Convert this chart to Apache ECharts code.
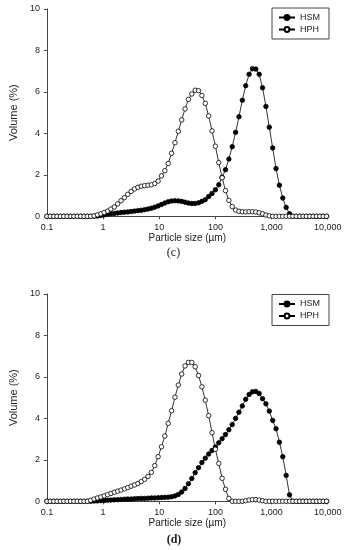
<!DOCTYPE html>
<html><head><meta charset="utf-8">
<script src="https://cdn.jsdelivr.net/npm/echarts@6/dist/echarts.min.js"></script>
<style>html,body{margin:0;padding:0;background:#fff}#c{width:345px;height:550px}</style>
</head><body><div id="c"></div>
<script>
// Particle size classes (µm)
const sizes = [0.1,0.1148,0.1318,0.1514,0.1738,0.1995,0.2291,0.2630,0.3020,0.3467,
0.3981,0.4571,0.5248,0.6026,0.6918,0.7943,0.9120,1.047,1.202,1.380,
1.585,1.820,2.089,2.399,2.754,3.162,3.631,4.169,4.786,5.495,
6.310,7.244,8.318,9.550,10.96,12.59,14.45,16.60,19.05,21.88,
25.12,28.84,33.11,38.02,43.65,50.12,57.54,66.07,75.86,87.10,
100.0,114.8,131.8,151.4,173.8,199.5,229.1,263.0,302.0,346.7,
398.1,457.1,524.8,602.6,691.8,794.3,912.0,1047,1202,1380,
1585,1820,2089,2399,2754,3162,3631,4169,4786,5495,
6310,7244,8318,9550];

// Panel (c)
const hsmC = [0,0,0,0,0,0,0,0,0,0,
0,0,0,0,0,0.01,0.04,0.07,0.10,0.12,
0.14,0.16,0.18,0.20,0.21,0.23,0.25,0.27,0.29,0.32,
0.35,0.39,0.44,0.50,0.57,0.64,0.70,0.74,0.75,0.74,
0.72,0.68,0.64,0.62,0.62,0.65,0.72,0.80,0.95,1.10,
1.28,1.52,1.88,2.25,2.76,3.36,4.05,4.80,5.60,6.30,
6.85,7.12,7.10,6.85,6.20,5.30,4.30,3.30,2.30,1.50,
0.88,0.43,0.12,0,0,0,0,0,0,0,
0,0,0,0];
const hphC = [0,0,0,0,0,0,0,0,0,0,
0,0,0,0,0.02,0.07,0.12,0.18,0.25,0.35,
0.45,0.60,0.75,0.90,1.06,1.20,1.32,1.40,1.45,1.48,
1.50,1.52,1.58,1.70,1.95,2.20,2.55,3.04,3.55,4.10,
4.65,5.18,5.64,5.90,6.08,6.06,5.83,5.45,4.84,4.12,
3.38,2.59,1.86,1.24,0.77,0.47,0.30,0.24,0.22,0.21,
0.22,0.22,0.21,0.17,0.12,0.06,0.02,0,0,0,
0,0,0,0,0,0,0,0,0,0,
0,0,0,0];

// Panel (d)
const hsmD = [0,0,0,0,0,0,0,0,0,0,
0,0,0,0,0.01,0.02,0.03,0.04,0.05,0.06,
0.07,0.08,0.09,0.10,0.11,0.11,0.12,0.13,0.14,0.14,
0.15,0.16,0.16,0.17,0.18,0.19,0.20,0.22,0.26,0.33,
0.45,0.62,0.85,1.10,1.38,1.62,1.87,2.08,2.28,2.45,
2.62,2.82,3.02,3.22,3.45,3.70,4.00,4.30,4.60,4.92,
5.15,5.28,5.30,5.20,4.95,4.70,4.35,3.90,3.50,2.85,
2.15,1.25,0.31,0,0,0,0,0,0,0,
0,0,0,0];
const hphD = [0,0,0,0,0,0,0,0,0,0,
0,0,0,0.05,0.11,0.16,0.21,0.26,0.32,0.38,
0.44,0.49,0.54,0.60,0.66,0.73,0.79,0.86,0.95,1.06,
1.20,1.40,1.72,2.15,2.63,3.15,3.76,4.37,5.02,5.61,
6.14,6.53,6.70,6.70,6.49,6.07,5.52,4.88,4.13,3.31,
2.51,1.83,1.11,0.58,0.14,0,0,0,0,0.03,
0.06,0.08,0.08,0.06,0.03,0,0,0,0,0,
0,0,0,0,0,0,0,0,0,0,
0,0,0,0];

const xTickLabels = ['0.1','1','10','100','1,000','10,000'];
const seriesNames = ['HSM','HPH'];
const panelLabels = ['(c)','(d)'];

const FONT = 'Liberation Sans, Arial, sans-serif';
const AX = '#444', TXT = '#222';

function xAx(i){
  return {type:'log', gridIndex:i, logBase:10, min:0.1, max:10000,
    axisLine:{show:true, lineStyle:{color:AX, width:1}},
    axisTick:{show:true, length:3, lineStyle:{color:AX, width:1}},
    splitLine:{show:false},
    axisLabel:{fontSize:9, color:TXT, margin:7, fontFamily:FONT,
      formatter:v=>xTickLabels[Math.round(Math.log10(v))+1]},
    name:'Particle size (µm)', nameLocation:'middle', nameGap:17,
    nameTextStyle:{fontSize:10, color:TXT, fontFamily:FONT}};
}
function yAx(i){
  return {type:'value', gridIndex:i, min:0, max:10, interval:2,
    axisLine:{show:true, lineStyle:{color:AX, width:1}},
    axisTick:{show:true, length:3, lineStyle:{color:AX, width:1}},
    splitLine:{show:false},
    axisLabel:{fontSize:9, color:TXT, margin:7, fontFamily:FONT},
    name:'Volume (%)', nameLocation:'middle', nameGap:23,
    nameTextStyle:{fontSize:11, color:TXT, fontFamily:FONT}};
}
function ser(name, arr, i, filled){
  return {type:'line', name, xAxisIndex:i, yAxisIndex:i,
    data:sizes.map((s,k)=>[s, arr[k]]),
    symbol:'circle', symbolSize:4.5, showSymbol:true, clip:false,
    lineStyle:{color:'#000', width:0.8},
    itemStyle:{color:filled?'#000':'#fff', borderColor:'#000', borderWidth:0.8},
    emphasis:{disabled:true}, silent:true, animation:false};
}
function leg(top){
  return {orient:'vertical', left:272, top:top, data:seriesNames,
    itemWidth:16, itemHeight:6, itemGap:3, padding:[5,9,5,6],
    borderColor:'#444', borderWidth:1, selectedMode:false,
    textStyle:{fontSize:9, color:TXT, fontFamily:FONT, lineHeight:9}};
}

const chart = echarts.init(document.getElementById('c'), null, {renderer:'canvas'});
chart.setOption({
  animation:false,
  backgroundColor:'#fff',
  textStyle:{fontFamily:FONT},
  grid:[
    {left:37.7, right:17.3, top:9, height:207.3},
    {left:37.7, right:17.3, top:294, height:207.3}
  ],
  xAxis:[xAx(0), xAx(1)],
  yAxis:[yAx(0), yAx(1)],
  legend:[leg(8), leg(294.5)],
  series:[
    ser(seriesNames[0], hsmC, 0, true), ser(seriesNames[1], hphC, 0, false),
    ser(seriesNames[0], hsmD, 1, true), ser(seriesNames[1], hphD, 1, false)
  ],
  graphic:[
    {type:'text', x:173.5, y:252.7, style:{text:panelLabels[0], font:'12px "Liberation Serif"', fill:TXT, align:'center', verticalAlign:'middle'}},
    {type:'text', x:174, y:540, style:{text:panelLabels[1], font:'bold 12px "Liberation Serif"', fill:TXT, align:'center', verticalAlign:'middle'}}
  ]
});
</script></body></html>
